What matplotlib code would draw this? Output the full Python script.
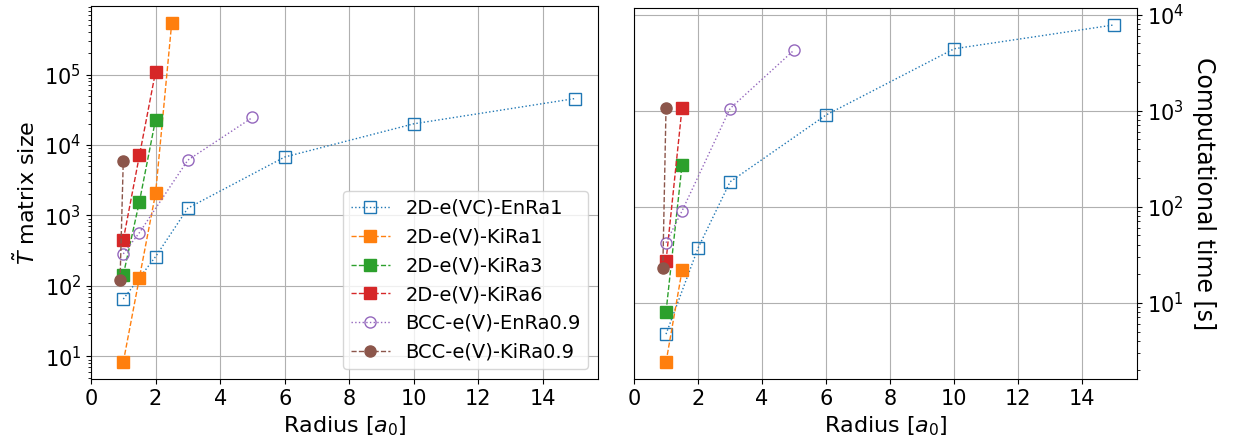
import numpy as np
from matplotlib import pyplot as plt

# series labels
names = ["2D-e(VC)-EnRa1", "2D-e(V)-KiRa1", "2D-e(V)-KiRa3", "2D-e(V)-KiRa6",
         "BCC-e(V)-EnRa0.9", "BCC-e(V)-KiRa0.9"]

# radius values per series
r_vc_enra1 = [1, 2, 3, 6, 10, 15]
r_v_kira1 = [1, 1.5, 2, 2.5]
r_v_kira3 = [1, 1.5, 2]
r_v_kira6 = [1, 1.5, 2]
r_bcc_enra = [1, 1.5, 3, 5]
r_bcc_kira = [0.9, 1]

# T matrix size
size_vc_enra1 = [65, 260, 1270, 6750, 20000, 45700]
size_v_kira1 = [8.3, 131, 2050, 540000]
size_v_kira3 = [143, 1570, 23000]
size_v_kira6 = [450, 7100, 110000]
size_bcc_enra = [285, 570, 6100, 24600]
size_bcc_kira = [120, 6000]

# computational time [s]
r_vc_time = [1, 2, 3, 6, 10, 15]
time_vc_enra1 = [4.7, 37, 181, 900, 4400, 7800]
r_v_kira1_t = [1, 1.5]
time_v_kira1 = [2.4, 21.6]
r_v_kira3_t = [1, 1.5]
time_v_kira3 = [8.0, 273]
r_v_kira6_t = [1, 1.5]
time_v_kira6 = [27, 1070]
r_bcc_enra_t = [1, 1.5, 3, 5]
time_bcc_enra = [42, 90, 1050, 4270]
r_bcc_kira_t = [0.9, 1]
time_bcc_kira = [22.7, 1070]

styles = [
    dict(color='C0', ls=':', marker='s', mfc='none'),
    dict(color='C1', ls='--', marker='s'),
    dict(color='C2', ls='--', marker='s'),
    dict(color='C3', ls='--', marker='s'),
    dict(color='C4', ls=':', marker='o', mfc='none'),
    dict(color='C5', ls='--', marker='o'),
]

fig = plt.figure(figsize=(12.37, 4.45), dpi=100)
ax1 = fig.add_axes([91/1237, 66/445, 507/1237, 373/445])
ax2 = fig.add_axes([634/1237, 66/445, 503/1237, 371/445])

left_data = [(r_vc_enra1, size_vc_enra1), (r_v_kira1, size_v_kira1),
             (r_v_kira3, size_v_kira3), (r_v_kira6, size_v_kira6),
             (r_bcc_enra, size_bcc_enra), (r_bcc_kira, size_bcc_kira)]
right_data = [(r_vc_time, time_vc_enra1), (r_v_kira1_t, time_v_kira1),
              (r_v_kira3_t, time_v_kira3), (r_v_kira6_t, time_v_kira6),
              (r_bcc_enra_t, time_bcc_enra), (r_bcc_kira_t, time_bcc_kira)]

for (x, y), st, nm in zip(left_data, styles, names):
    ax1.plot(x, y, lw=1, ms=8, label=nm, **st)
for (x, y), st, nm in zip(right_data, styles, names):
    ax2.plot(x, y, lw=1, ms=8, label=nm, **st)

for ax in (ax1, ax2):
    ax.set_yscale('log')
    ax.set_xlim(left=0)
    ax.set_xticks(np.arange(0, 16, 2))
    ax.grid(True, which='major')
    ax.tick_params(labelsize=15)
    ax.set_xlabel('Radius [$a_0$]', fontsize=16)

ax1.set_ylabel(r'$\tilde{T}$ matrix size', fontsize=16)
ax1.legend(loc='lower right', fontsize=14)

ax2.yaxis.tick_right()
ax2.yaxis.set_label_position('right')
ax2.set_ylabel('Computational time [s]', fontsize=17, rotation=270,
               va='bottom', labelpad=6)

plt.savefig('out.png', dpi=100)
